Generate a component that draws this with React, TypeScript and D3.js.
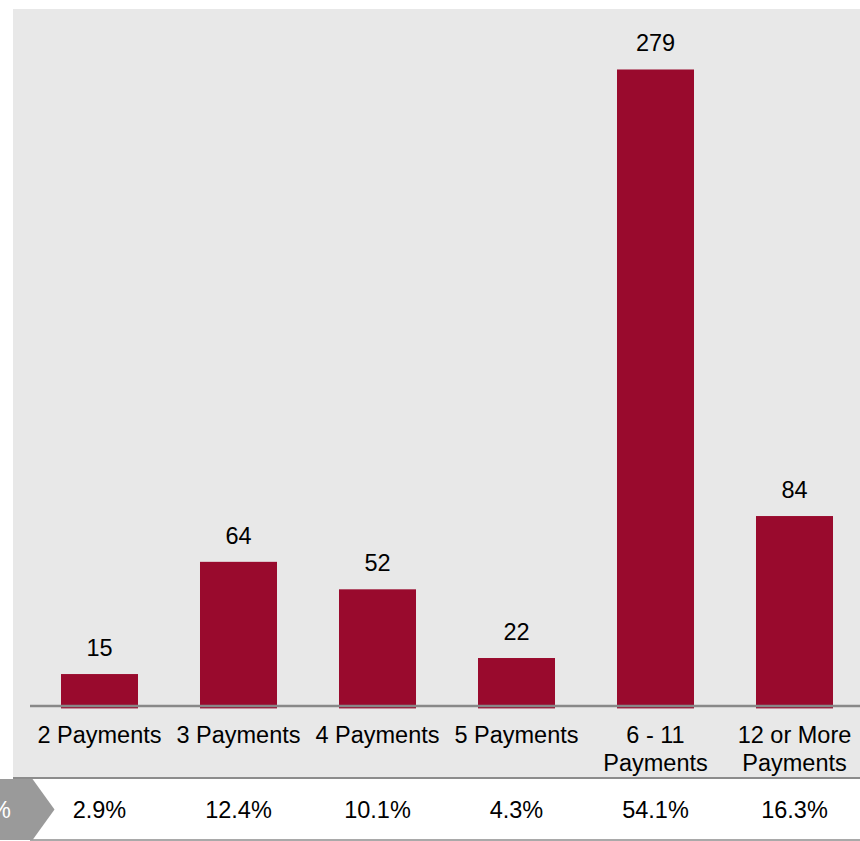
import React from "react";
import * as d3 from "d3";

const categories = ["2 Payments", "3 Payments", "4 Payments", "5 Payments", "6 - 11\nPayments", "12 or More\nPayments"];
const counts = [15, 64, 52, 22, 279, 84];
const percents = ["2.9%", "12.4%", "10.1%", "4.3%", "54.1%", "16.3%"];

const W = 860;
const H = 841;
const FONT = "'Liberation Sans', Arial, sans-serif";
const FS = 23.5;

export default function App() {
  const x = d3.scaleBand<string>().domain(categories).range([30, 864]).paddingInner(0.446).paddingOuter(0.223);
  const y = d3.scaleLinear().domain([0, 300]).range([708.4, 708.4 - 300 * 2.29]);
  const axisY = 706;

  return (
    <svg width={W} height={H} style={{ position: "absolute", left: 0, top: 0, background: "#fff" }} fontFamily={FONT}>
      <rect x={13} y={9} width={W - 13} height={768} fill="#e8e8e8" />
      {categories.map((c, i) => {
        const bx = x(c)!;
        const top = y(counts[i]);
        return (
          <g key={c}>
            <rect x={bx} y={top} width={x.bandwidth()} height={y(0) - top} fill="#990a2d" />
            <text x={bx + x.bandwidth() / 2} y={top - 18} textAnchor="middle" fontSize={FS} fill="#000">
              {counts[i]}
            </text>
          </g>
        );
      })}
      <line x1={30} x2={W} y1={axisY} y2={axisY} stroke="#888" strokeWidth={2.5} />
      {categories.map((c) => {
        const lines = c.split("\n");
        const cx = x(c)! + x.bandwidth() / 2;
        return (
          <text key={"l" + c} x={cx} y={743} textAnchor="middle" fontSize={FS} fill="#000">
            {lines.map((l, j) => (
              <tspan key={j} x={cx} dy={j === 0 ? 0 : 27.5}>
                {l}
              </tspan>
            ))}
          </text>
        );
      })}
      <line x1={13} x2={W} y1={778} y2={778} stroke="#8c8c8c" strokeWidth={2} />
      <line x1={30} x2={W} y1={840} y2={840} stroke="#8c8c8c" strokeWidth={1.5} />
      <polygon points="0,779 32.5,779 54.5,809.5 32.5,840 0,840" fill="#9a9a9a" />
      <text x={11} y={818} textAnchor="end" fontSize={FS} fill="#fff">%</text>
      {categories.map((c, i) => (
        <text key={"p" + c} x={x(c)! + x.bandwidth() / 2} y={818.3} textAnchor="middle" fontSize={FS} fill="#000">
          {percents[i]}
        </text>
      ))}
    </svg>
  );
}
